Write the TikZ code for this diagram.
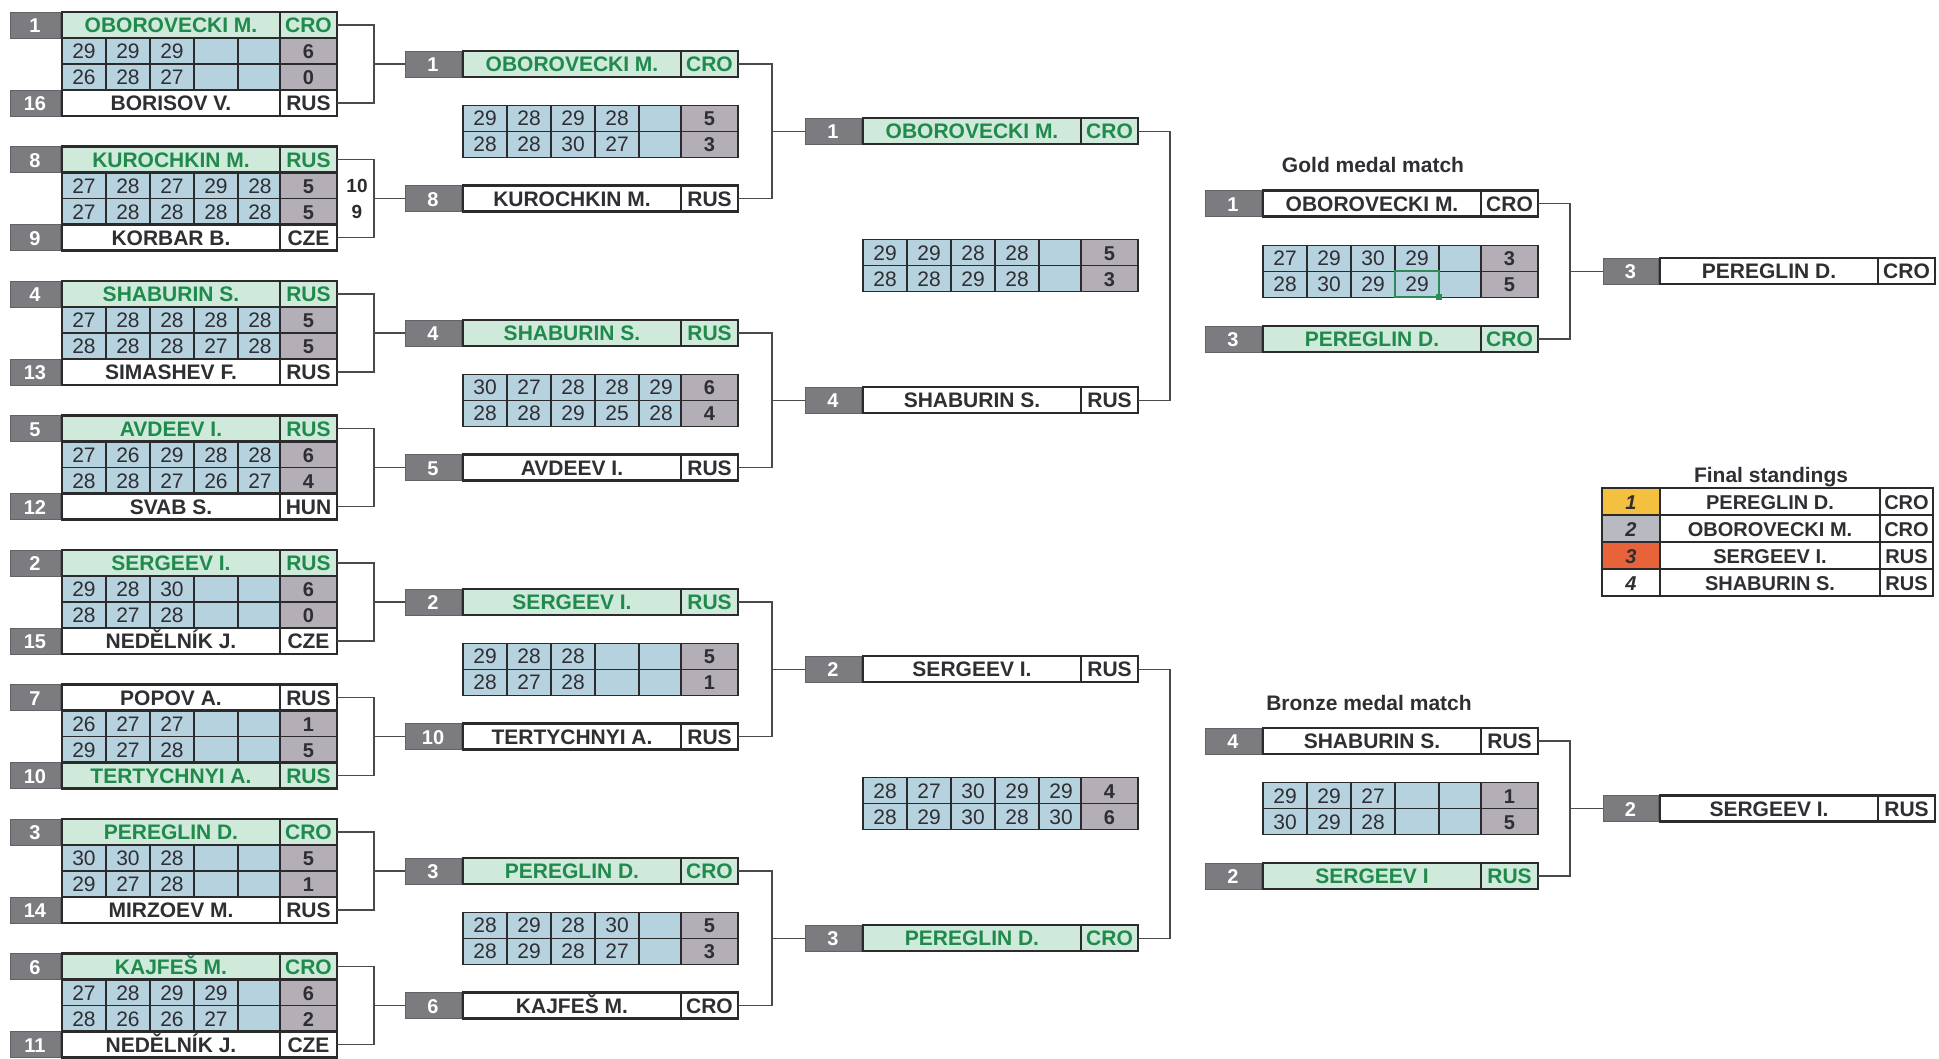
\documentclass[tikz,border=0pt]{standalone}
\usepackage{fontspec}
\setmainfont{Liberation Sans}
\usepackage{xcolor}
\definecolor{seedgray}{HTML}{7B7B80}
\definecolor{wingreen}{HTML}{CFE9DA}
\definecolor{wintext}{HTML}{1F8A4C}
\definecolor{scoreblue}{HTML}{B7D2DF}
\definecolor{totalgray}{HTML}{B4AEB6}
\definecolor{linedark}{HTML}{2B2B2B}
\definecolor{wiregray}{HTML}{4A4A4A}
\definecolor{textdark}{HTML}{2E2E33}
\definecolor{medalgold}{HTML}{F4C040}
\definecolor{medalsilver}{HTML}{B9B9C2}
\definecolor{medalbronze}{HTML}{E8633A}
\definecolor{hlgreen}{HTML}{2E8B57}
\usetikzlibrary{calc}
\tikzset{
  every node/.style={inner sep=0pt, outer sep=0pt},
  seedbox/.style={
    rectangle, fill=seedgray, draw=seedgray!80!black, line width=0.8,
    minimum height=26, text=white, text height=15, text depth=0,
    font=\fontsize{20}{20}\selectfont\bfseries
  },
  plainrow/.style={
    rectangle, fill=white, draw=linedark, line width=2.4,
    minimum height=26, text=textdark, text height=15, text depth=0,
    font=\fontsize{21}{21}\selectfont\bfseries
  },
  winrow/.style={plainrow, fill=wingreen, text=wintext},
  scorecell/.style={
    rectangle, fill=scoreblue, draw=linedark, line width=1.2,
    minimum width=44, minimum height=26, text=textdark,
    text height=15, text depth=0, font=\fontsize{21}{21}\selectfont
  },
  totalcell/.style={scorecell, fill=totalgray, minimum width=57,
    font=\fontsize{20}{20}\selectfont\bfseries},
  wire/.style={draw=wiregray, line width=1.5},
  heading/.style={text=textdark, font=\fontsize{21}{21}\selectfont\bfseries},
  shootoff/.style={text=linedark, font=\fontsize{19}{19}\selectfont\bfseries},
  standcell/.style={
    rectangle, fill=white, draw=linedark, line width=1.2,
    minimum height=27, text=textdark, text height=15, text depth=0,
    font=\fontsize{20}{20}\selectfont\bfseries
  },
  standnum/.style={standcell, minimum width=58,
    font=\fontsize{20}{20}\selectfont\bfseries\itshape}
}
% player row: id, seed-left x, seed width, y, seed, name, country, style
\newcommand{\prow}[8]{%
  \node[seedbox, minimum width=#3] (#1-s) at ({#2+#3/2},#4) {#5};
  \node[#8, minimum width=218] (#1-n) at ({#2+#3+111},#4) {#6};
  \node[#8, minimum width=57] (#1-c) at ({#2+#3+248.5},#4) {#7};
}
% score row: id, name-left x, y, five ends, total
\newcommand{\srow}[9]{%
  \node[scorecell] (#1-1) at ({#2+22},#3) {#4};
  \node[scorecell] (#1-2) at ({#2+66},#3) {#5};
  \node[scorecell] (#1-3) at ({#2+110},#3) {#6};
  \node[scorecell] (#1-4) at ({#2+154},#3) {#7};
  \node[scorecell] (#1-5) at ({#2+198},#3) {#8};
  \node[totalcell] (#1-t) at ({#2+246.5},#3) {#9};
}

\begin{document}
\begin{tikzpicture}[x=1pt, y=-1pt]
\useasboundingbox (0,0) rectangle (1939,1058);
\clip (0,0) rectangle (1939,1058);
\fill[white] (0,0) rectangle (1939,1058);

% First round
\srow{e0-x1}{62}{51}{29}{29}{29}{}{}{6}
\srow{e0-x2}{62}{77}{26}{28}{27}{}{}{0}
\prow{e0-a}{10}{50}{25}{1}{OBOROVECKI M.}{CRO}{winrow}
\prow{e0-b}{10}{50}{103}{16}{BORISOV V.}{RUS}{plainrow}

\srow{e1-x1}{62}{185.5}{27}{28}{27}{29}{28}{5}
\srow{e1-x2}{62}{211.5}{27}{28}{28}{28}{28}{5}
\prow{e1-a}{10}{50}{159.5}{8}{KUROCHKIN M.}{RUS}{winrow}
\prow{e1-b}{10}{50}{237.5}{9}{KORBAR B.}{CZE}{plainrow}
\node[shootoff] (so1) at (357,185.5) {10};
\node[shootoff] (so2) at (357,211.5) {9};

\srow{e2-x1}{62}{320}{27}{28}{28}{28}{28}{5}
\srow{e2-x2}{62}{346}{28}{28}{28}{27}{28}{5}
\prow{e2-a}{10}{50}{294}{4}{SHABURIN S.}{RUS}{winrow}
\prow{e2-b}{10}{50}{372}{13}{SIMASHEV F.}{RUS}{plainrow}

\srow{e3-x1}{62}{454.5}{27}{26}{29}{28}{28}{6}
\srow{e3-x2}{62}{480.5}{28}{28}{27}{26}{27}{4}
\prow{e3-a}{10}{50}{428.5}{5}{AVDEEV I.}{RUS}{winrow}
\prow{e3-b}{10}{50}{506.5}{12}{SVAB S.}{HUN}{plainrow}

\srow{e4-x1}{62}{589}{29}{28}{30}{}{}{6}
\srow{e4-x2}{62}{615}{28}{27}{28}{}{}{0}
\prow{e4-a}{10}{50}{563}{2}{SERGEEV I.}{RUS}{winrow}
\prow{e4-b}{10}{50}{641}{15}{NEDĚLNÍK J.}{CZE}{plainrow}

\srow{e5-x1}{62}{723.5}{26}{27}{27}{}{}{1}
\srow{e5-x2}{62}{749.5}{29}{27}{28}{}{}{5}
\prow{e5-a}{10}{50}{697.5}{7}{POPOV A.}{RUS}{plainrow}
\prow{e5-b}{10}{50}{775.5}{10}{TERTYCHNYI A.}{RUS}{winrow}

\srow{e6-x1}{62}{858}{30}{30}{28}{}{}{5}
\srow{e6-x2}{62}{884}{29}{27}{28}{}{}{1}
\prow{e6-a}{10}{50}{832}{3}{PEREGLIN D.}{CRO}{winrow}
\prow{e6-b}{10}{50}{910}{14}{MIRZOEV M.}{RUS}{plainrow}

\srow{e7-x1}{62}{992.5}{27}{28}{29}{29}{}{6}
\srow{e7-x2}{62}{1018.5}{28}{26}{26}{27}{}{2}
\prow{e7-a}{10}{50}{966.5}{6}{KAJFEŠ M.}{CRO}{winrow}
\prow{e7-b}{10}{50}{1044.5}{11}{NEDĚLNÍK J.}{CZE}{plainrow}

% Quarterfinals
\prow{q0-a}{405}{56}{64}{1}{OBOROVECKI M.}{CRO}{winrow}
\srow{q0-x1}{463}{118.25}{29}{28}{29}{28}{}{5}
\srow{q0-x2}{463}{144.25}{28}{28}{30}{27}{}{3}
\prow{q0-b}{405}{56}{198.5}{8}{KUROCHKIN M.}{RUS}{plainrow}

\prow{q1-a}{405}{56}{333}{4}{SHABURIN S.}{RUS}{winrow}
\srow{q1-x1}{463}{387.25}{30}{27}{28}{28}{29}{6}
\srow{q1-x2}{463}{413.25}{28}{28}{29}{25}{28}{4}
\prow{q1-b}{405}{56}{467.5}{5}{AVDEEV I.}{RUS}{plainrow}

\prow{q2-a}{405}{56}{602}{2}{SERGEEV I.}{RUS}{winrow}
\srow{q2-x1}{463}{656.25}{29}{28}{28}{}{}{5}
\srow{q2-x2}{463}{682.25}{28}{27}{28}{}{}{1}
\prow{q2-b}{405}{56}{736.5}{10}{TERTYCHNYI A.}{RUS}{plainrow}

\prow{q3-a}{405}{56}{871}{3}{PEREGLIN D.}{CRO}{winrow}
\srow{q3-x1}{463}{925.25}{28}{29}{28}{30}{}{5}
\srow{q3-x2}{463}{951.25}{28}{29}{28}{27}{}{3}
\prow{q3-b}{405}{56}{1005.5}{6}{KAJFEŠ M.}{CRO}{plainrow}

% Semifinals
\prow{s0-a}{805}{56}{131.25}{1}{OBOROVECKI M.}{CRO}{winrow}
\srow{s0-x1}{863}{252.75}{29}{29}{28}{28}{}{5}
\srow{s0-x2}{863}{278.75}{28}{28}{29}{28}{}{3}
\prow{s0-b}{805}{56}{400.25}{4}{SHABURIN S.}{RUS}{plainrow}

\prow{s1-a}{805}{56}{669.25}{2}{SERGEEV I.}{RUS}{plainrow}
\srow{s1-x1}{863}{790.75}{28}{27}{30}{29}{29}{4}
\srow{s1-x2}{863}{816.75}{28}{29}{30}{28}{30}{6}
\prow{s1-b}{805}{56}{938.25}{3}{PEREGLIN D.}{CRO}{winrow}

% Gold medal match
\node[heading] (ghead) at (1373,165) {Gold medal match};
\prow{g-a}{1205}{56}{203.5}{1}{OBOROVECKI M.}{CRO}{plainrow}
\srow{g-x1}{1263}{258.25}{27}{29}{30}{29}{}{3}
\srow{g-x2}{1263}{284.25}{28}{30}{29}{29}{}{5}
\prow{g-b}{1205}{56}{339}{3}{PEREGLIN D.}{CRO}{winrow}
\draw[hlgreen, line width=1.6] (g-x2-4.north west) rectangle (g-x2-4.south east);
\node[fill=hlgreen, minimum size=6] (gsel) at (g-x2-4.south east) {};
\prow{g-w}{1603}{55}{271.25}{3}{PEREGLIN D.}{CRO}{plainrow}

% Bronze medal match
\node[heading] (bhead) at (1369,703) {Bronze medal match};
\prow{b-a}{1205}{56}{741}{4}{SHABURIN S.}{RUS}{plainrow}
\srow{b-x1}{1263}{795.5}{29}{29}{27}{}{}{1}
\srow{b-x2}{1263}{821.5}{30}{29}{28}{}{}{5}
\prow{b-b}{1205}{56}{876}{2}{SERGEEV I}{RUS}{winrow}
\prow{b-w}{1603}{55}{808.5}{2}{SERGEEV I.}{RUS}{plainrow}

% Final standings
\node[heading] (fhead) at (1771,477) {Final standings};
\foreach \r/\col/\nm/\ct [count=\k] in {1/medalgold/PEREGLIN D./CRO,
    2/medalsilver/OBOROVECKI M./CRO, 3/medalbronze/SERGEEV I./RUS,
    4/white/SHABURIN S./RUS} {
  \node[standnum, fill=\col] (fs\k-r) at (1631,{474.5+27*\k}) {\r};
  \node[standcell, minimum width=220] (fs\k-n) at (1770,{474.5+27*\k}) {\nm};
  \node[standcell, minimum width=53] (fs\k-c) at (1906.5,{474.5+27*\k}) {\ct};
}
\draw[linedark, line width=2.4] (fs1-r.north west) rectangle (fs4-c.south east);

% First round joins
\foreach \i/\t in {0/q0-a,1/q0-b,2/q1-a,3/q1-b,4/q2-a,5/q2-b,6/q3-a,7/q3-b} {
  \coordinate (j\i) at (374,{64+134.5*\i});
  \draw[wire] (e\i-a-c.east) -| (j\i) |- (e\i-b-c.east);
  \draw[wire] (j\i) -- (\t-s.west);
}

% Quarterfinal joins
\foreach \k/\t/\y in {0/s0-a/131.25,1/s0-b/400.25,2/s1-a/669.25,3/s1-b/938.25} {
  \coordinate (k\k) at (772,\y);
  \draw[wire] (q\k-a-c.east) -| (k\k) |- (q\k-b-c.east);
  \draw[wire] (k\k) -- (\t-s.west);
}

% Semifinal joins
\coordinate (m0) at (1170,265.75);
\coordinate (m1) at (1170,803.75);
\draw[wire] (s0-a-c.east) -| (m0) |- (s0-b-c.east);
\draw[wire] (s1-a-c.east) -| (m1) |- (s1-b-c.east);

% Medal match joins
\coordinate (gj) at (1570,271.25);
\coordinate (bj) at (1570,808.5);
\draw[wire] (g-a-c.east) -| (gj) |- (g-b-c.east);
\draw[wire] (gj) -- (g-w-s.west);
\draw[wire] (b-a-c.east) -| (bj) |- (b-b-c.east);
\draw[wire] (bj) -- (b-w-s.west);

\end{tikzpicture}
\end{document}
